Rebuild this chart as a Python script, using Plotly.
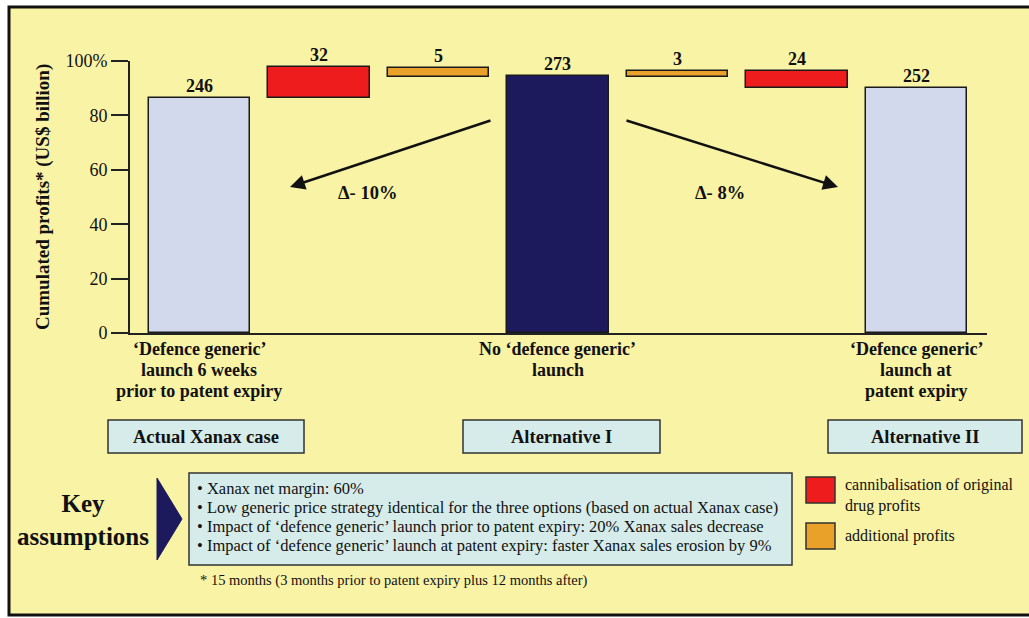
import plotly.graph_objects as go

# ---------------- data ----------------
main_x = [0, 3, 6]
main_heights = [86.5, 94.5, 90.0]          # % of axis
main_labels = ["246", "273", "252"]
main_colors = ["#d3d9ec", "#1c1a5c", "#d3d9ec"]

float_x = [1, 2, 4, 5]
float_bottoms = [86.5, 94.2, 94.2, 90.0]
float_tops = [97.8, 97.3, 96.3, 96.3]
float_labels = ["32", "5", "3", "24"]
float_colors = ["#ee1c1c", "#e9a12a", "#e9a12a", "#ee1c1c"]

category_labels = [
    ["‘Defence generic’", "launch 6 weeks", "prior to patent expiry"],
    ["No ‘defence generic’", "launch"],
    ["‘Defence generic’", "launch at", "patent expiry"],
]
case_labels = ["Actual Xanax case", "Alternative I", "Alternative II"]
delta_labels = ["Δ- 10%", "Δ- 8%"]

tick_vals = [0, 20, 40, 60, 80, 100]
tick_text = ["0", "20", "40", "60", "80", "100%"]

assumptions = [
    "• Xanax net margin: 60%",
    "• Low generic price strategy identical for the three options (based on actual Xanax case)",
    "• Impact of ‘defence generic’ launch prior to patent expiry: 20% Xanax sales decrease",
    "• Impact of ‘defence generic’ launch at patent expiry: faster Xanax sales erosion by 9%",
]
footnote = "* 15 months (3 months prior to patent expiry plus 12 months after)"
legend_items = [("cannibalisation of original<br>drug profits", "#ee1c1c"),
                ("additional profits", "#e9a12a")]

# ---------------- layout helpers ----------------
L, R, T, B = 130, 987, 61, 333
W, H = R - L, B - T


def px(x):
    return (x - L) / W


def py(y):
    return (B - y) / H


SERIF = "Liberation Serif"
BG = "#f9f3a6"
BOX = "#d6ecea"
INK = "#111"

fig = go.Figure()

fig.add_trace(go.Bar(
    x=main_x, y=main_heights, width=0.85,
    marker=dict(color=main_colors, line=dict(color="#1a1a1a", width=1.5)),
    hoverinfo="skip", showlegend=False,
))
fig.add_trace(go.Bar(
    x=float_x, base=float_bottoms,
    y=[t - b for t, b in zip(float_tops, float_bottoms)], width=0.85,
    marker=dict(color=float_colors, line=dict(color="#1a1a1a", width=1.5)),
    hoverinfo="skip", showlegend=False,
))

ann = []


def text_at(xp, yp, text, size, xanchor="center", yanchor="middle", align="center",
            bold=False, angle=0):
    if bold:
        text = f"<b>{text}</b>"
    ann.append(dict(x=px(xp), y=py(yp), xref="paper", yref="paper", text=text,
                    showarrow=False, xanchor=xanchor, yanchor=yanchor, align=align,
                    textangle=angle, font=dict(family=SERIF, size=size, color=INK)))


# value labels
for x, h, t in zip(main_x + float_x, main_heights + float_tops, main_labels + float_labels):
    ann.append(dict(x=x, y=h, xref="x", yref="y", text=f"<b>{t}</b>", showarrow=False,
                    xanchor="center", yanchor="bottom",
                    font=dict(family=SERIF, size=18, color=INK)))

# category labels under axis
for x, lines in zip(main_x, category_labels):
    for j, t in enumerate(lines):
        ann.append(dict(x=x, y=py(349 + 21 * j), xref="x", yref="paper", text=f"<b>{t}</b>",
                        showarrow=False, xanchor="center", yanchor="middle",
                        font=dict(family=SERIF, size=18, color=INK)))

# case boxes
box_x = [(108, 304), (463, 660), (828, 1022)]
for (x0, x1), t in zip(box_x, case_labels):
    fig.add_shape(type="rect", xref="paper", yref="paper", x0=px(x0), x1=px(x1),
                  y0=py(453), y1=py(420), fillcolor=BOX, line=dict(color="#333", width=1.5))
    text_at((x0 + x1) / 2, 437, t, 18.5, bold=True)

# arrows
arrows = [((492, 120), (290, 187)), ((625, 120), (838, 187))]
for (sx, sy), (tx, ty) in arrows:
    ann.append(dict(x=px(tx), y=py(ty), xref="paper", yref="paper", text="",
                    showarrow=True, ax=sx - tx, ay=sy - ty, arrowhead=2, arrowsize=1.2,
                    arrowwidth=2.5, arrowcolor=INK, standoff=0))
for (cx, cy), t in zip([(367, 193), (720, 193)], delta_labels):
    text_at(cx, cy, t, 18.5, bold=True)

# y title
text_at(43, 197, "Cumulated profits* (US$ billion)", 19, bold=True, angle=-90)

# key assumptions
text_at(83, 520, "Key<br>assumptions", 25, bold=True)
fig.add_shape(type="path", xref="paper", yref="paper",
              path=f"M {px(157)},{py(478)} L {px(182)},{py(519)} L {px(157)},{py(560)} Z",
              fillcolor="#1c1a5c", line=dict(color="#1c1a5c", width=1))
fig.add_shape(type="rect", xref="paper", yref="paper", x0=px(189), x1=px(792),
              y0=py(565), y1=py(473), fillcolor=BOX, line=dict(color="#333", width=1.5))
for i, t in enumerate(assumptions):
    text_at(195, 488 + 19.3 * i, t, 16.5, xanchor="left", align="left")
text_at(198, 580, footnote, 14.5, xanchor="left", align="left")

# legend
for (t, c), y0 in zip(legend_items, [477, 523]):
    fig.add_shape(type="rect", xref="paper", yref="paper", x0=px(806), x1=px(835),
                  y0=py(y0 + 26), y1=py(y0), fillcolor=c, line=dict(color="#333", width=1.5))
for (t, c), yc in zip(legend_items, [496, 536]):
    text_at(843, yc, t, 16, xanchor="left", align="left")

# outer frame
fig.add_shape(type="rect", xref="paper", yref="paper", x0=px(9), x1=px(1045),
              y0=py(615), y1=py(7), fillcolor=BG, line=dict(color=INK, width=3), layer="below")

fig.update_layout(
    width=1029, height=618,
    margin=dict(l=L, r=1029 - R, t=T, b=618 - B),
    paper_bgcolor="white", plot_bgcolor="rgba(0,0,0,0)",
    annotations=ann, bargap=0,
    xaxis=dict(range=[-0.58, 6.59], showgrid=False, zeroline=False, showticklabels=False,
               showline=True, linecolor="#222", linewidth=2, fixedrange=True),
    yaxis=dict(range=[0, 100], tickvals=tick_vals, ticktext=tick_text, showgrid=False,
               zeroline=False, showline=True, linecolor="#222", linewidth=2,
               ticks="outside", ticklen=17, tickwidth=2, tickcolor="#222",
               tickfont=dict(family=SERIF, size=18, color=INK), fixedrange=True),
    font=dict(family=SERIF),
)

fig.write_html("out.html")
